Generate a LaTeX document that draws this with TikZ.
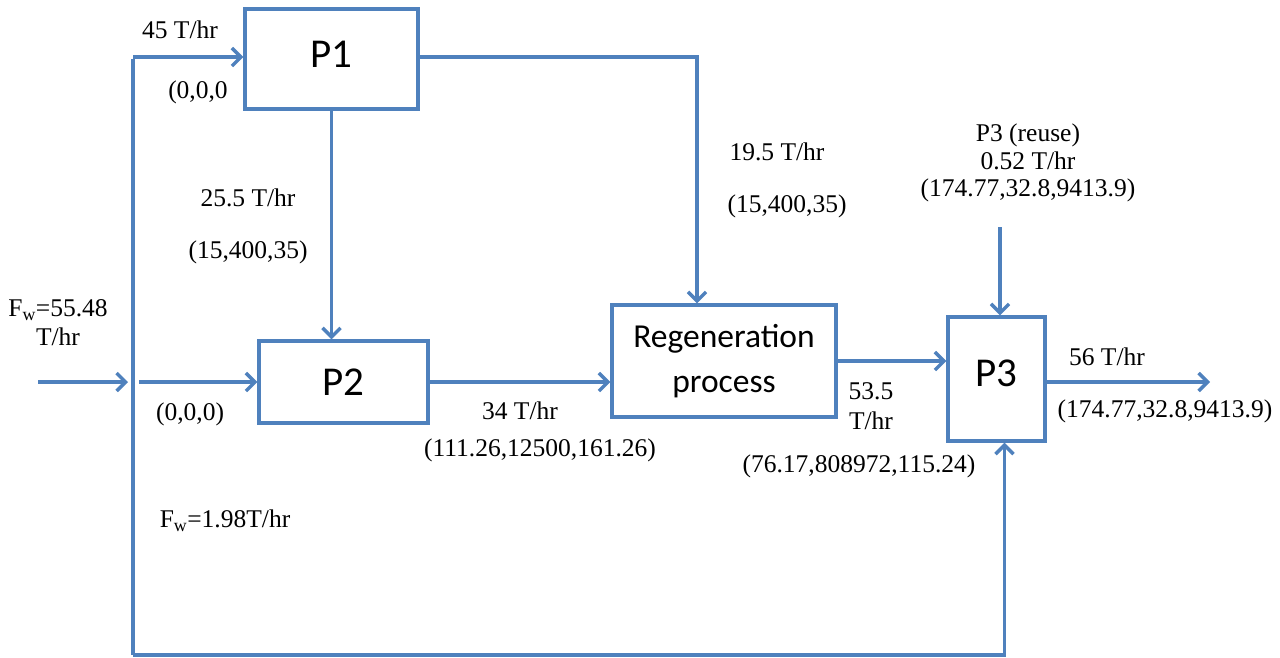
\documentclass[tikz,border=0pt]{standalone}
\usepackage{fontspec}
\setmainfont{Liberation Serif}
\newfontfamily\boxfont{Carlito}
\usetikzlibrary{arrows.meta,calc}
\definecolor{flowblue}{HTML}{4F81BD}
\begin{document}
\begin{tikzpicture}[x=1pt,y=-1pt,
  box/.style={draw=flowblue,line width=3.4pt,fill=white,inner sep=0pt,font=\boxfont\fontsize{41}{44}\selectfont},
  flow/.style={draw=flowblue,line width=3.8pt,-{Straight Barb[length=9pt,width=18pt,line width=3.4pt]}},
  pipe/.style={draw=flowblue,line width=3.8pt},
  lbl/.style={inner sep=0pt,align=center,font=\fontsize{25.5}{29}\selectfont}]
\useasboundingbox (0,0) rectangle (1280,657);
% boxes
\node[box,minimum width=173pt,minimum height=100pt] (p1) at (331.5,59) {\raisebox{9pt}{P1}};
\node[box,minimum width=169pt,minimum height=82pt] (p2) at (343.5,382) {P2};
\node[box,minimum width=224pt,minimum height=112pt,font=\boxfont\fontsize{33.5}{45}\selectfont,align=center] (reg) at (724,361) {Regeneration\\process};
\node[box,minimum width=97pt,minimum height=124pt] (p3) at (996.5,379) {\raisebox{11pt}{P3}};
% coordinates
\coordinate (tl) at (133,59);
\coordinate (bl) at (133,655);
\coordinate (inflow) at (38,382);
\coordinate (injoin) at (128,382);
\coordinate (branch) at (139,382);
\coordinate (reuse) at (1000,227);
\coordinate (out) at (1210,382);
% connectors
\draw[pipe] (tl) -- (bl);
\draw[flow] (133,57) -- (p1.west |- 0,57);
\draw[flow] (inflow) -- (injoin);
\draw[flow] (branch) -- (branch -| p2.west);
\draw[flow] (p1.south) -- (p1.south |- p2.north);
\draw[flow] (p1.east |- 0,57) -| ($(reg.north)+(-27,0)$);
\draw[flow] (p2.east) -- (p2.east -| reg.west);
\draw[flow] (reg.east) -- (reg.east -| p3.west);
\draw[flow] (reuse) -- (reuse |- p3.north);
\draw[flow] (p3.east |- out) -- (out);
\draw[flow] (bl) -| ($(p3.south)+(8,0)$);
% labels
\node[lbl] (t45) at (180,30) {45 T/hr};
\node[lbl] (t000a) at (198,92) {(0,0,0};
\node[lbl] (t255) at (248,198) {25.5 T/hr};
\node[lbl] (t255c) at (248,252) {(15,400,35)};
\node[lbl] (tfw) at (58,323) {F\textsubscript{w}=55.48\\T/hr};
\node[lbl] (t000b) at (190,414) {(0,0,0)};
\node[lbl] (tfw2) at (225,521) {F\textsubscript{w}=1.98T/hr};
\node[lbl] (t34) at (520,411) {34 T/hr};
\node[lbl] (t34c) at (540,450) {(111.26,12500,161.26)};
\node[lbl] (t195) at (777,152) {19.5 T/hr};
\node[lbl] (t195c) at (787,206) {(15,400,35)};
\node[lbl,font=\fontsize{25.5}{27.5}\selectfont] (treuse) at (1028,163) {P3 (reuse)\\0.52 T/hr\\(174.77,32.8,9413.9)};
\node[lbl,font=\fontsize{25.5}{30}\selectfont] (t535) at (871,406) {53.5\\T/hr};
\node[lbl] (t535c) at (859,466) {(76.17,808972,115.24)};
\node[lbl] (t56) at (1107,357) {56 T/hr};
\node[lbl] (t56c) at (1165,411) {(174.77,32.8,9413.9)};
\end{tikzpicture}
\end{document}
